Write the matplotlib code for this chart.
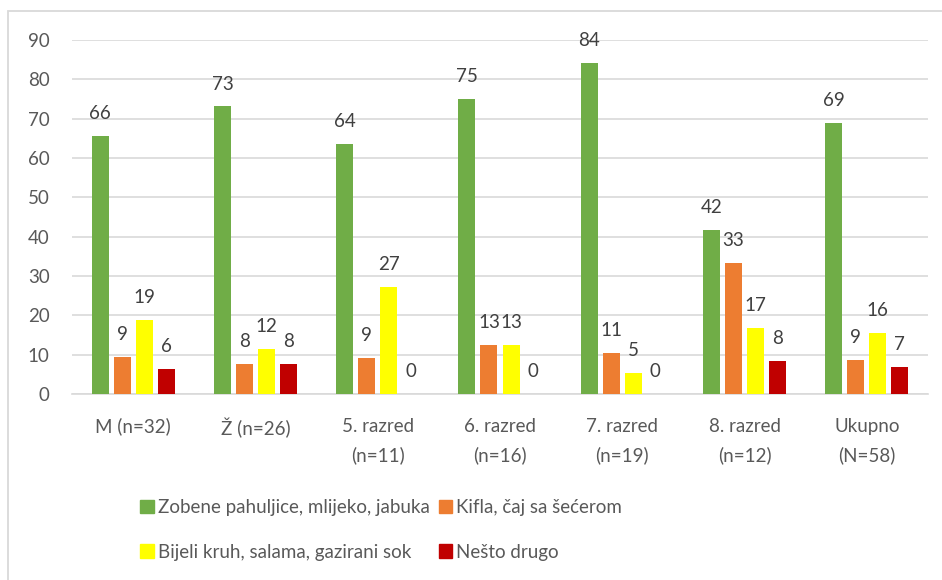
import math
import matplotlib
matplotlib.use("Agg")
import matplotlib.pyplot as plt
from matplotlib.patches import Rectangle, Patch
import numpy as np

categories = ["M (n=32)", "Ž (n=26)", "5. razred\n(n=11)", "6. razred\n(n=16)",
              "7. razred\n(n=19)", "8. razred\n(n=12)", "Ukupno\n(N=58)"]
series_names = ["Zobene pahuljice, mlijeko, jabuka", "Kifla, čaj sa šećerom",
                "Bijeli kruh, salama, gazirani sok", "Nešto drugo"]
zobene = [65.6, 73.1, 63.6, 75.0, 84.2, 41.7, 69.0]
kifla = [9.4, 7.7, 9.1, 12.5, 10.5, 33.3, 8.6]
bijeli = [18.8, 11.5, 27.3, 12.5, 5.3, 16.7, 15.5]
nesto = [6.3, 7.7, 0.0, 0.0, 0.0, 8.3, 6.9]
colors = ["#70AD47", "#ED7D31", "#FFFF00", "#C00000"]
yticks = [0, 10, 20, 30, 40, 50, 60, 70, 80, 90]

plt.rcParams['font.family'] = ['Lato', 'DejaVu Sans']
text_color = "#595959"
fs = 13.5

fig = plt.figure(figsize=(9.42, 5.8), dpi=100)
ax = fig.add_axes([72/942, 1-394/580, (928-72)/942, (394-40)/580])

x = np.arange(len(categories))
pitch = 0.18
width = 0.139
all_series = [zobene, kifla, bijeli, nesto]
for i, (vals, c) in enumerate(zip(all_series, colors)):
    pos = x + (i - 1.5) * pitch
    ax.bar(pos, vals, width=width, color=c, zorder=3)
    for xp, v in zip(pos, vals):
        lbl = str(int(math.floor(v + 0.5)))
        ax.annotate(lbl, (xp, v), xytext=(0, 10), textcoords='offset points',
                    ha='center', va='bottom', fontsize=fs, color="#404040")

ax.set_xlim(-0.5, len(categories) - 0.5)
ax.set_ylim(0, 90)
ax.set_yticks(yticks)
ax.set_yticklabels([str(t) for t in yticks])
ax.set_xticks(x)
ax.set_xticklabels(categories, linespacing=1.75)
ax.tick_params(axis='both', length=0, labelsize=fs, labelcolor=text_color)
ax.tick_params(axis='y', pad=16)
ax.tick_params(axis='x', pad=17)
ax.grid(axis='y', color="#D9D9D9", linewidth=1.2, zorder=0)
for s in ['top', 'right', 'left']:
    ax.spines[s].set_visible(False)
ax.spines['bottom'].set_color("#D9D9D9")
ax.spines['bottom'].set_linewidth(1.2)

handles = [Patch(color=colors[0]), Patch(color=colors[2]),
           Patch(color=colors[1]), Patch(color=colors[3])]
labels = [series_names[0], series_names[2], series_names[1], series_names[3]]
fig.legend(handles, labels, ncol=2, loc='upper left',
           bbox_to_anchor=(131/942, 1-490/580), frameon=False,
           fontsize=fs, labelcolor=text_color, handlelength=0.7, handleheight=0.7,
           handletextpad=0.25, columnspacing=0.45, labelspacing=1.45, borderpad=0)

border = Rectangle((8/942, -0.1), 1.1, 1.1 - 11/580, transform=fig.transFigure,
                   fill=False, edgecolor="#D9D9D9", linewidth=1.3)
fig.patches.append(border)

fig.savefig("out.png", dpi=100)
